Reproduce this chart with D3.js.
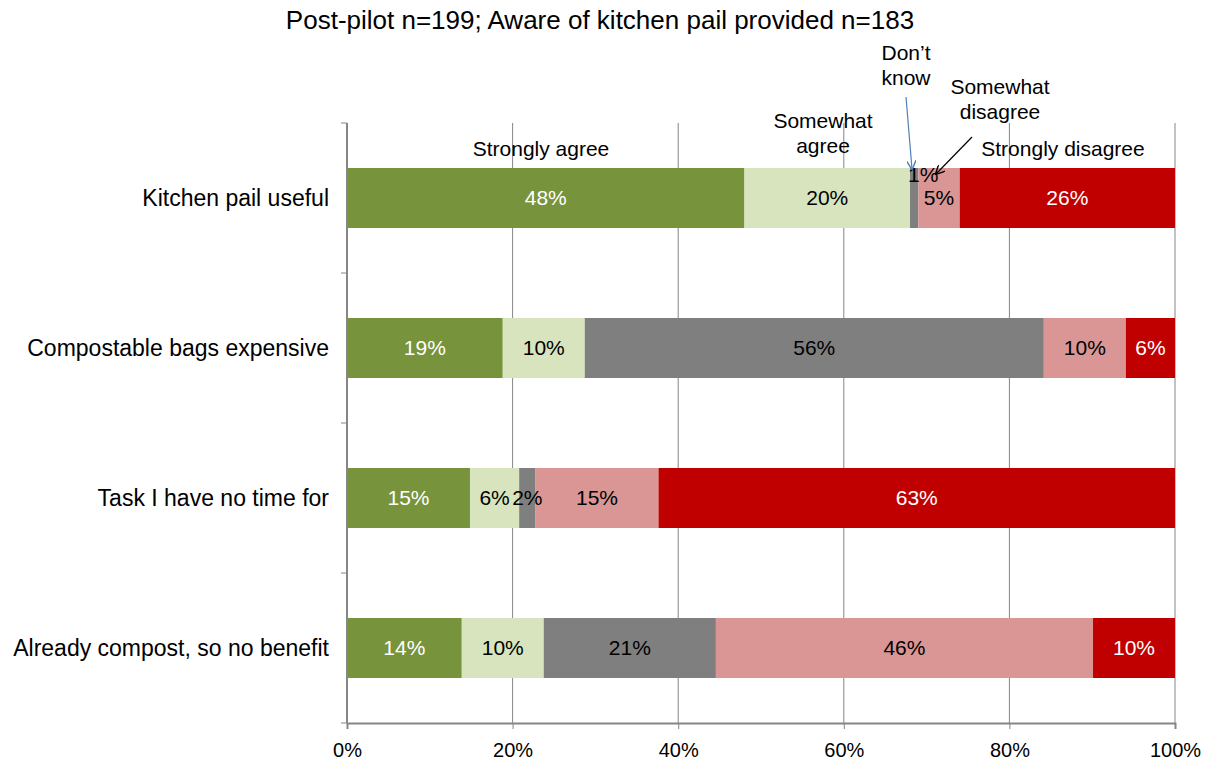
<!DOCTYPE html>
<html><head><meta charset="utf-8">
<script src="https://cdn.jsdelivr.net/npm/d3@7"></script>
<style>body{margin:0;background:#fff}svg{font-family:"Liberation Sans",Arial,sans-serif}</style>
</head><body><svg id="c" width="1207" height="768"></svg>
<script>
const categories = ["Kitchen pail useful","Compostable bags expensive","Task I have no time for","Already compost, so no benefit"];
const seriesNames = ["Strongly agree","Somewhat agree","Don\u2019t know","Somewhat disagree","Strongly disagree"];
const stronglyAgree = [48,19,15,14];
const somewhatAgree = [20,10,6,10];
const dontKnow = [1,56,2,21];
const somewhatDisagree = [5,10,15,46];
const stronglyDisagree = [26,6,63,10];
const xTicks = [0,0.2,0.4,0.6,0.8,1.0];
const title = "Post-pilot n=199; Aware of kitchen pail provided n=183";

const colors = ["#77933C","#D7E4BD","#7F7F7F","#D99694","#C00000"];
const textColors = ["#fff","#000","#000","#000","#fff"];
const series = [stronglyAgree,somewhatAgree,dontKnow,somewhatDisagree,stronglyDisagree];

const svg = d3.select("#c");
const x = d3.scaleLinear().domain([0,1]).range([347,1175]);
const y = d3.scaleBand().domain(categories).range([123,723]).paddingInner(0.6).paddingOuter(0.3);

// gridlines
svg.append("g").selectAll("line").data(xTicks.slice(1)).join("line")
  .attr("x1",d=>x(d)).attr("x2",d=>x(d)).attr("y1",123).attr("y2",723)
  .attr("stroke","#868686").attr("stroke-width",1);

// rows (100% stacked: each row normalised by its total)
const rows = categories.map((c,i)=>{
  const vals = series.map(s=>s[i]);
  const tot = d3.sum(vals);
  let acc = 0;
  return vals.map((v,k)=>{const seg={cat:c,k,v,x0:acc/tot,x1:(acc+v)/tot,row:i};acc+=v;return seg;});
}).flat();

svg.append("g").selectAll("rect").data(rows).join("rect")
  .attr("x",d=>x(d.x0)).attr("width",d=>x(d.x1)-x(d.x0))
  .attr("y",d=>y(d.cat)).attr("height",y.bandwidth())
  .attr("fill",d=>colors[d.k]);

svg.append("g").selectAll("text").data(rows).join("text")
  .attr("x",d=>{const cx=(x(d.x0)+x(d.x1))/2; return d.v<2? cx+9 : cx;})
  .attr("y",d=>{const cy=y(d.cat)+y.bandwidth()/2; return d.v<2? cy-23 : cy;})
  .attr("dy","0.35em").attr("text-anchor","middle").attr("font-size",21)
  .attr("fill",d=>d.v<2?"#000":textColors[d.k])
  .text(d=>d.v+"%");

// axes
const xAxis = d3.axisBottom(x).tickValues(xTicks).tickFormat(d3.format(".0%")).tickSize(6).tickPadding(14);
const gx = svg.append("g").attr("transform","translate(0,723)").call(xAxis);
gx.select(".domain").attr("stroke","#868686").attr("stroke-width",2);
gx.selectAll(".tick line").attr("stroke","#868686");
gx.selectAll("text").attr("font-size",20).attr("fill","#000").attr("font-family","Liberation Sans, Arial, sans-serif");

const yEdges = d3.range(categories.length+1).map(i=>y.range()[0]+i*y.step());
svg.append("line").attr("x1",347).attr("x2",347).attr("y1",123).attr("y2",723).attr("stroke","#868686").attr("stroke-width",2);
svg.append("g").selectAll("line").data(yEdges).join("line")
  .attr("x1",341).attr("x2",347).attr("y1",d=>d).attr("y2",d=>d).attr("stroke","#868686");

svg.append("g").selectAll("text").data(categories).join("text")
  .attr("x",329).attr("y",d=>y(d)+y.bandwidth()/2).attr("dy","0.35em")
  .attr("text-anchor","end").attr("font-size",23).text(d=>d);

// title
svg.append("text").attr("x",600).attr("y",20).attr("dy","0.35em").attr("text-anchor","middle")
  .attr("font-size",26).text(title);

// series annotations
const ann = svg.append("g").attr("font-size",21).attr("text-anchor","middle");
function lbl(lines,cx,cy){lines.forEach((t,i)=>ann.append("text").attr("x",cx).attr("y",cy+i*25).attr("dy","0.35em").text(t));}
lbl([seriesNames[0]],541,149);
lbl(["Somewhat","agree"],823,121);
lbl(["Don\u2019t","know"],906,53);
lbl(["Somewhat","disagree"],1000,87);
lbl([seriesNames[4]],1063,149);

// arrows
const defs = svg.append("defs");
[["ab","#4F81BD"],["ak","#000"]].forEach(([id,c])=>{
  defs.append("marker").attr("id",id).attr("viewBox","0 0 10 10").attr("refX",9).attr("refY",5)
   .attr("markerWidth",8).attr("markerHeight",8).attr("orient","auto")
   .append("path").attr("d","M0,0 L10,5 L0,10").attr("fill","none").attr("stroke",c).attr("stroke-width",1.5);
});
svg.append("line").attr("x1",906).attr("y1",97).attr("x2",912).attr("y2",169).attr("stroke","#4F81BD").attr("stroke-width",1.2).attr("marker-end","url(#ab)");
svg.append("line").attr("x1",972).attr("y1",137).attr("x2",936).attr("y2",174).attr("stroke","#000").attr("stroke-width",1.2).attr("marker-end","url(#ak)");
</script></body></html>
